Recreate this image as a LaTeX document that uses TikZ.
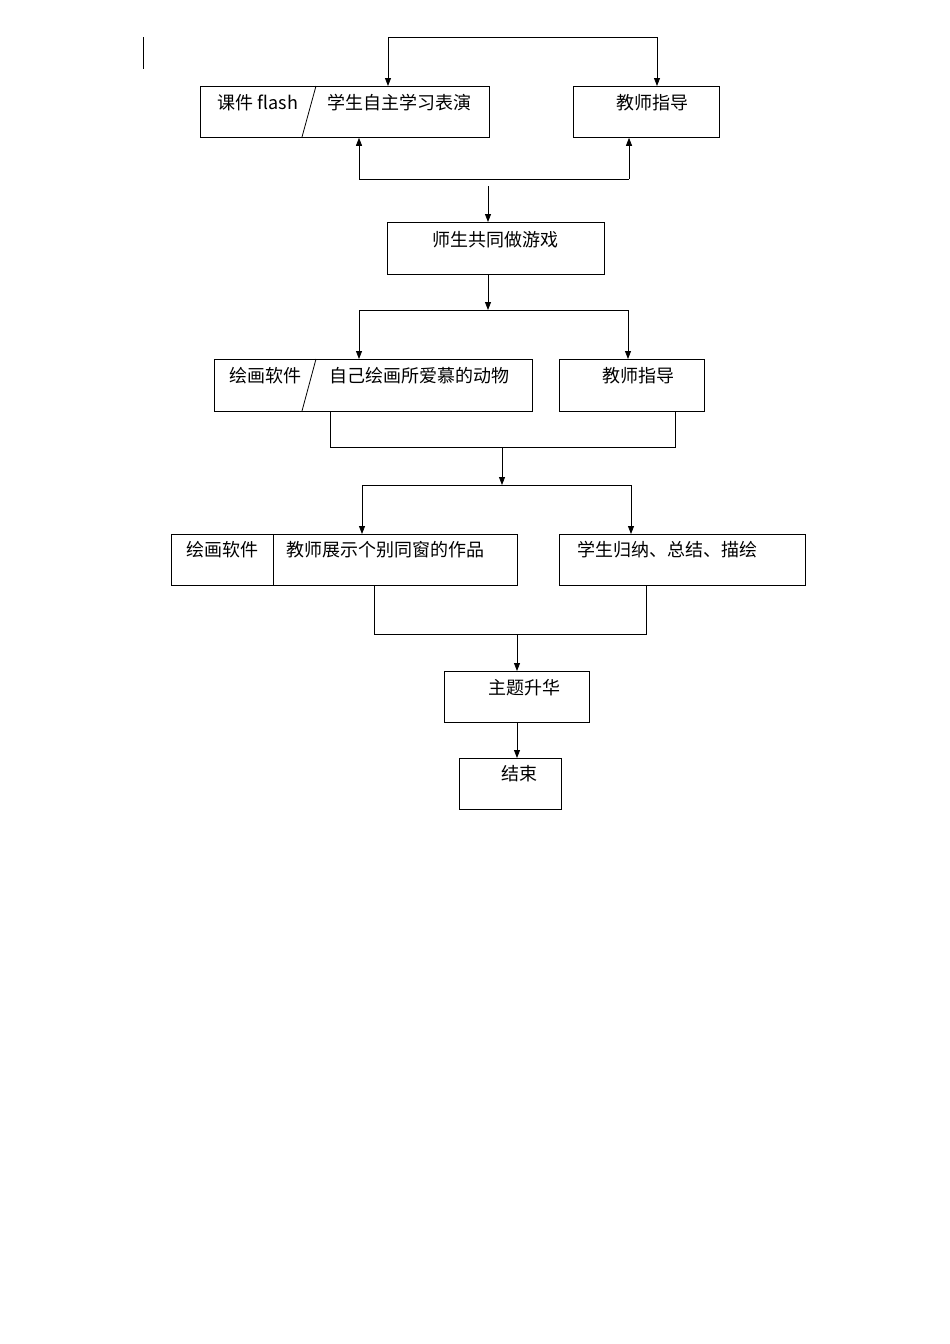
\documentclass[tikz,border=0pt]{standalone}
\usepackage{fontspec}
\newfontfamily\cjk{Noto Sans CJK SC}
\usetikzlibrary{positioning,arrows.meta}
\tikzset{
  box/.style={draw, thick, inner sep=0pt, anchor=north west},
  lbl/.style={font=\cjk\fontsize{18}{20}\selectfont, inner sep=0pt},
  conn/.style={thick},
  arr/.style={thick, -{Triangle[length=8pt,width=6pt]}}
}
\begin{document}
\begin{tikzpicture}[x=1pt,y=-1pt]
    \useasboundingbox (0,0) rectangle (950,1344);
    %cursor mark
    \draw[thick] (143,37)--(143,69);
    %row 1
    \node[box, minimum width=289pt, minimum height=51pt] (kj) at (200,86) {};
    \draw[thick] (316,86)--(302,137);
    \node[lbl] (kjt) at (258,103) {课件 flash};
    \node[lbl] (xs) at (399,103) {学生自主学习表演};
    \node[box, minimum width=146pt, minimum height=51pt] (js1) at (573,86) {};
    \node[lbl] (js1t) at (652,103) {教师指导};
    \coordinate (t1) at (388,37);
    \coordinate (t2) at (657,37);
    \draw[conn] (t1)--(t2);
    \draw[arr] (t1)--(kj.north -| t1);
    \draw[arr] (t2)--(js1.north -| t2);
    \coordinate (b1) at (359,179);
    \coordinate (b2) at (629,179);
    \draw[conn] (b1)--(b2);
    \draw[arr] (b1)--(kj.south -| b1);
    \draw[arr] (b2)--(js1.south -| b2);
    %row 2
    \node[box, minimum width=217pt, minimum height=52pt] (yx) at (387,222) {};
    \node[lbl] (yxt) at (495,240) {师生共同做游戏};
    \coordinate (c1) at (488,186);
    \draw[arr] (c1)--(yx.north -| c1);
    \coordinate (d0) at (488,310);
    \draw[arr] (yx.south -| d0)--(d0);
    \coordinate (d1) at (359,310);
    \coordinate (d2) at (628,310);
    %row 3
    \node[box, minimum width=318pt, minimum height=52pt] (hh) at (214,359) {};
    \draw[thick] (316,359)--(302,411);
    \node[lbl] (hht) at (265,376) {绘画软件};
    \node[lbl] (zj) at (419,376) {自己绘画所爱慕的动物};
    \node[box, minimum width=145pt, minimum height=52pt] (js2) at (559,359) {};
    \node[lbl] (js2t) at (638,376) {教师指导};
    \draw[conn] (d1)--(d2);
    \draw[arr] (d1)--(hh.north -| d1);
    \draw[arr] (d2)--(js2.north -| d2);
    \coordinate (e1) at (330,447);
    \coordinate (e2) at (675,447);
    \draw[conn] (hh.south -| e1)--(e1)--(e2)--(js2.south -| e2);
    \coordinate (e0) at (502,447);
    \coordinate (f0) at (502,485);
    \draw[arr] (e0)--(f0);
    \coordinate (f1) at (362,485);
    \coordinate (f2) at (631,485);
    %row 4
    \node[box, minimum width=346pt, minimum height=51pt] (zs) at (171,534) {};
    \draw[thick] (273,534)--(273,585);
    \node[lbl] (zst) at (222,550) {绘画软件};
    \node[lbl] (zp) at (385,550) {教师展示个别同窗的作品};
    \node[box, minimum width=246pt, minimum height=51pt] (gn) at (559,534) {};
    \node[lbl] (gnt) at (667,550) {学生归纳、总结、描绘};
    \draw[conn] (f1)--(f2);
    \draw[arr] (f1)--(zs.north -| f1);
    \draw[arr] (f2)--(gn.north -| f2);
    \coordinate (g1) at (374,634);
    \coordinate (g2) at (646,634);
    \draw[conn] (zs.south -| g1)--(g1)--(g2)--(gn.south -| g2);
    %row 5
    \node[box, minimum width=145pt, minimum height=51pt] (sh) at (444,671) {};
    \node[lbl] (sht) at (524,688) {主题升华};
    \coordinate (g0) at (517,634);
    \draw[arr] (g0)--(sh.north -| g0);
    %row 6
    \node[box, minimum width=102pt, minimum height=51pt] (jx) at (459,758) {};
    \node[lbl] (jxt) at (519,774) {结束};
    \draw[arr] (sh.south -| g0)--(jx.north -| g0);
\end{tikzpicture}
\end{document}
